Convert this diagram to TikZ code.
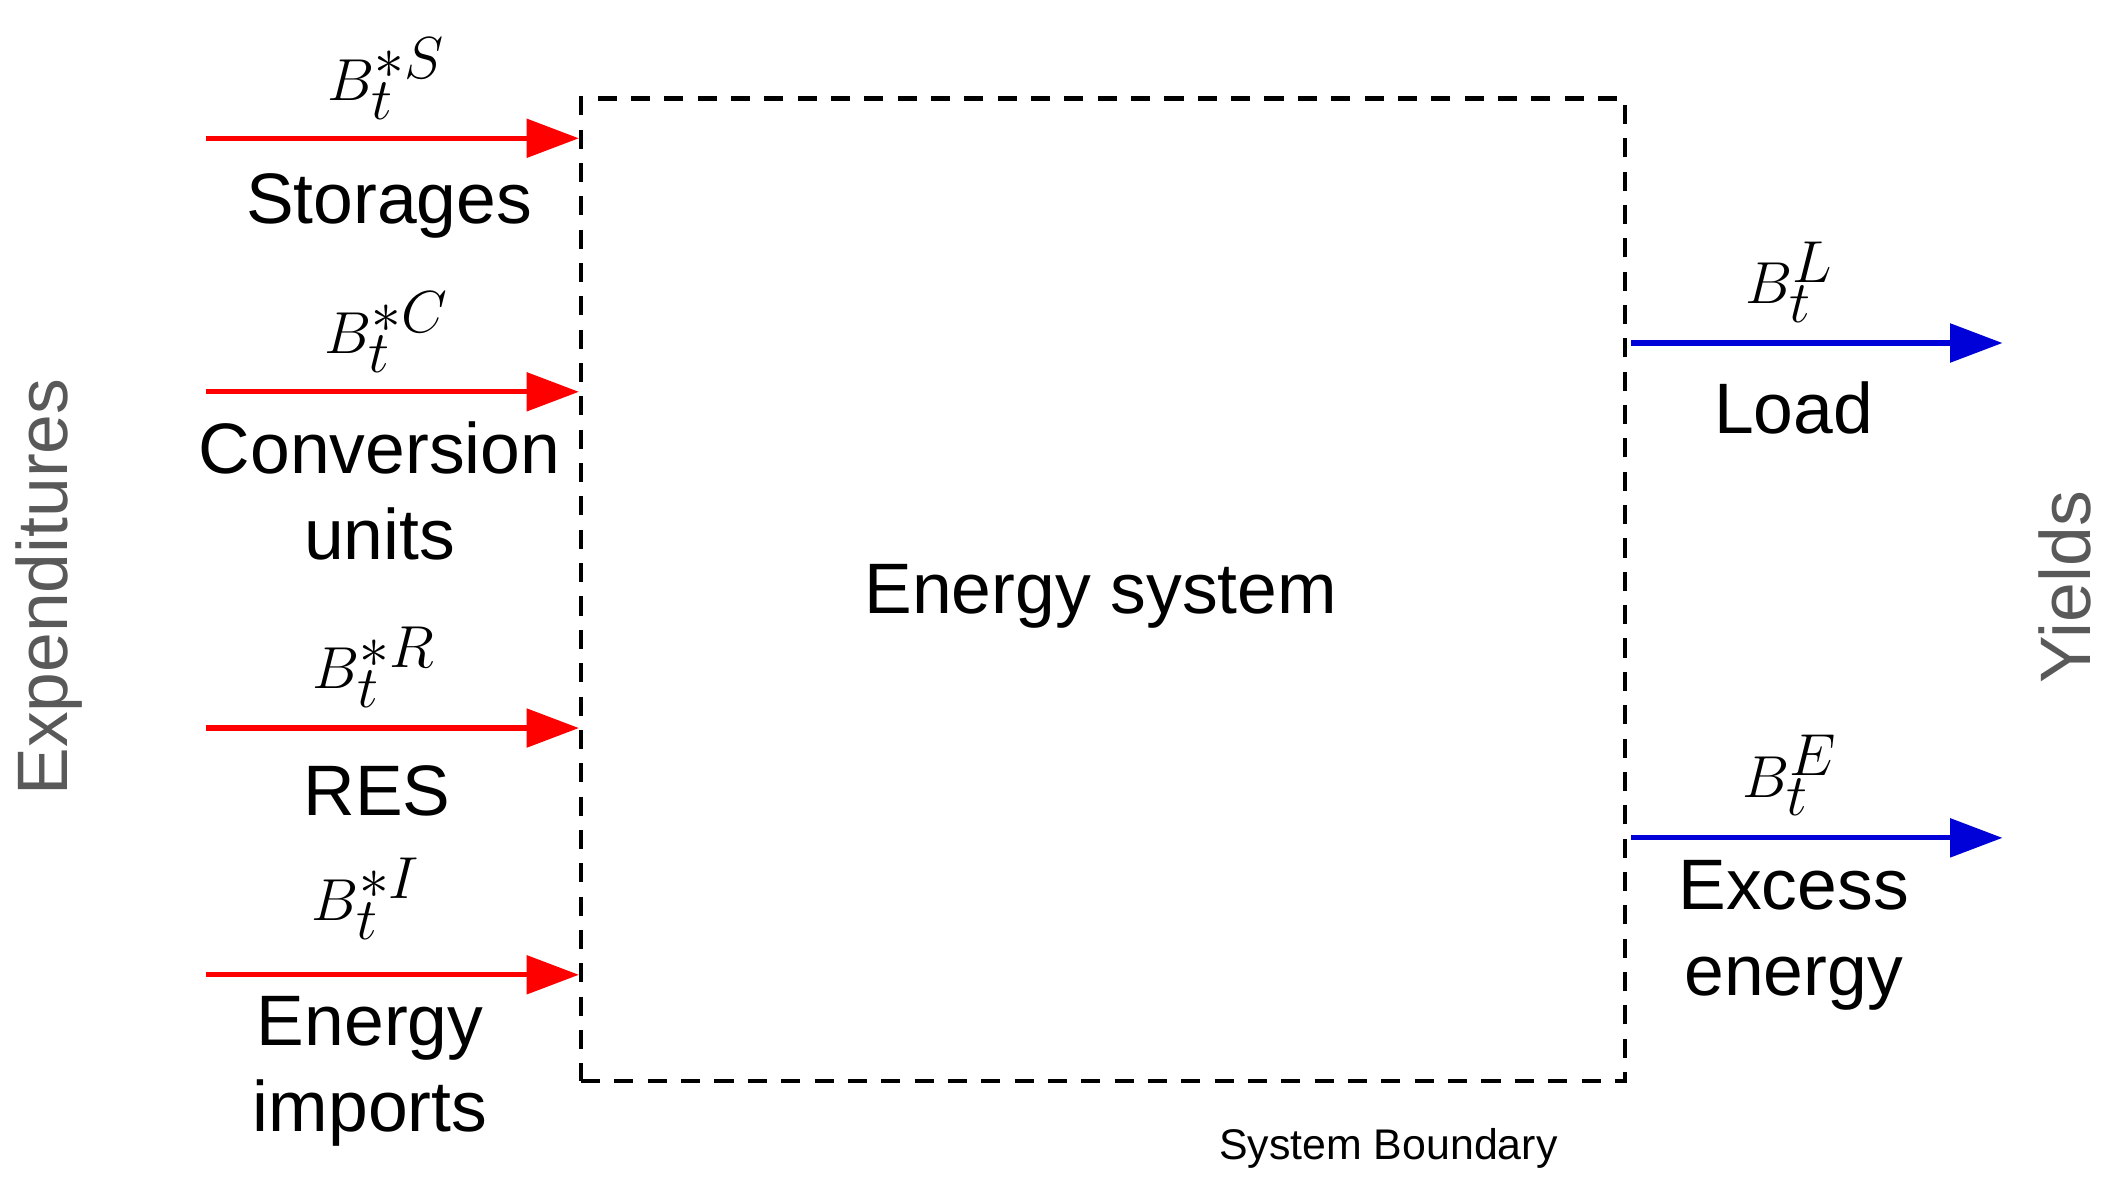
\documentclass[tikz,border=0pt]{standalone}
\usepackage{fontspec}
\setmainfont{Liberation Sans}
\usetikzlibrary{arrows.meta}
\begin{document}
\begin{tikzpicture}[x=0.02cm,y=-0.02cm,
  inarr/.style={red,line width=2.2pt,-{Triangle[length=22pt,width=16pt]}},
  outarr/.style={blue!85!black,line width=2.2pt,-{Triangle[length=22pt,width=16pt]}},
  lbl/.style={font=\fontsize{30}{36}\selectfont,align=center,inner sep=0pt},
  mlbl/.style={font=\fontsize{44}{50}\selectfont,inner sep=0pt},
  side/.style={font=\fontsize{30}{36}\selectfont,text=gray!70!black,inner sep=0pt}]
\useasboundingbox (0,0) rectangle (1560,878);
\node[draw,dashed,line width=1.8pt,dash pattern=on 8pt off 6pt,minimum width=15.4cm,minimum height=14.5cm,anchor=north west] (box) at (427,71) {};
\node[lbl] (es) at (812,440) {Energy system};
\node[font=\fontsize{18}{21}\selectfont,inner sep=0pt] (sb) at (1024,847) {System Boundary};
\foreach \n/\y in {s/102,c/289,r/537,i/719}{
  \coordinate (\n0) at (152,\y); \coordinate (\n1) at (427,\y);
  \draw[inarr] (\n0) -- (\n1);}
\foreach \n/\y in {l/253,e/618}{
  \coordinate (\n0) at (1203,\y); \coordinate (\n1) at (1477,\y);
  \draw[outarr] (\n0) -- (\n1);}
\node[mlbl] (ms) at (285,58) {$B_t^{*S}$};
\node[lbl] (ts) at (287,152) {Storages};
\node[mlbl] (mc) at (285,245) {$B_t^{*C}$};
\node[lbl] (tc) at (280,362) {Conversion\\units};
\node[mlbl] (mr) at (276,492) {$B_t^{*R}$};
\node[lbl] (tr) at (278,583) {RES};
\node[mlbl] (mi) at (270,663) {$B_t^{*I}$};
\node[lbl] (ti) at (273,790) {Energy\\imports};
\node[mlbl] (ml) at (1320,208) {$B_t^{L}$};
\node[lbl] (tl) at (1323,301) {Load};
\node[mlbl] (me) at (1320,572) {$B_t^{E}$};
\node[lbl] (te) at (1323,690) {Excess\\energy};
\node[side,rotate=90] (exp) at (36,433) {Expenditures};
\node[side,rotate=90] (yl) at (1523,433) {Yields};
\end{tikzpicture}
\end{document}
